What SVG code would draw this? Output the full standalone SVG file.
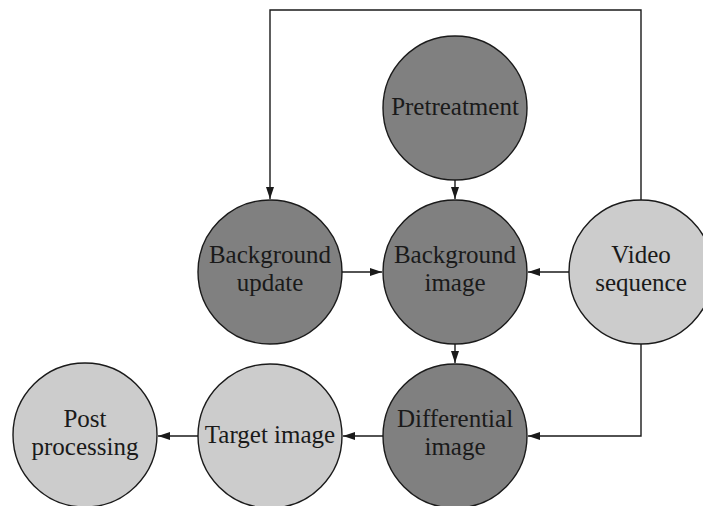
<svg xmlns="http://www.w3.org/2000/svg" width="703" height="506" viewBox="0 0 703 506">
<style>
.dark{fill:#808080;stroke:#1a1a1a;stroke-width:1.4}
.light{fill:#cccccc;stroke:#1a1a1a;stroke-width:1.4}
text{font-family:"Liberation Serif","Times New Roman",serif;font-size:25px;fill:#1a1a1a;text-anchor:middle}
.edge{fill:none;stroke:#1a1a1a;stroke-width:1.4}
</style>
<defs>
<marker id="arr" viewBox="0 0 12 8" refX="12" refY="4" markerWidth="12" markerHeight="8" markerUnits="userSpaceOnUse" orient="auto">
<path d="M0,0 L12,4 L0,8 Z" fill="#1a1a1a"/>
</marker>
</defs>
<rect width="703" height="506" fill="#ffffff"/>
<g id="connectors">
<path class="edge" d="M641,200 V10 H270 V199" marker-end="url(#arr)"/>
<path class="edge" d="M641,344 V436 H528" marker-end="url(#arr)"/>
<path class="edge" d="M455,180 V199" marker-end="url(#arr)"/>
<path class="edge" d="M455,344 V363" marker-end="url(#arr)"/>
<path class="edge" d="M342,272 H382" marker-end="url(#arr)"/>
<path class="edge" d="M569,272 H528" marker-end="url(#arr)"/>
<path class="edge" d="M384,436 H343" marker-end="url(#arr)"/>
<path class="edge" d="M199,436 H158" marker-end="url(#arr)"/>
</g>
<g id="pretreatment">
<circle class="dark" cx="455" cy="108" r="72"/>
<text x="455" y="115">Pretreatment</text>
</g>
<g id="background-update">
<circle class="dark" cx="270" cy="272" r="72"/>
<text x="270" y="263">Background</text>
<text x="270" y="291">update</text>
</g>
<g id="background-image">
<circle class="dark" cx="455" cy="272" r="72"/>
<text x="455" y="263">Background</text>
<text x="455" y="291">image</text>
</g>
<g id="video-sequence">
<circle class="light" cx="641" cy="272" r="72"/>
<text x="641" y="263">Video</text>
<text x="641" y="291">sequence</text>
</g>
<g id="differential-image">
<circle class="dark" cx="455" cy="436" r="72"/>
<text x="455" y="427">Differential</text>
<text x="455" y="455">image</text>
</g>
<g id="target-image">
<circle class="light" cx="270" cy="436" r="72"/>
<text x="270" y="443">Target image</text>
</g>
<g id="post-processing">
<circle class="light" cx="85" cy="435" r="72"/>
<text x="85" y="427">Post</text>
<text x="85" y="455">processing</text>
</g>
</svg>
